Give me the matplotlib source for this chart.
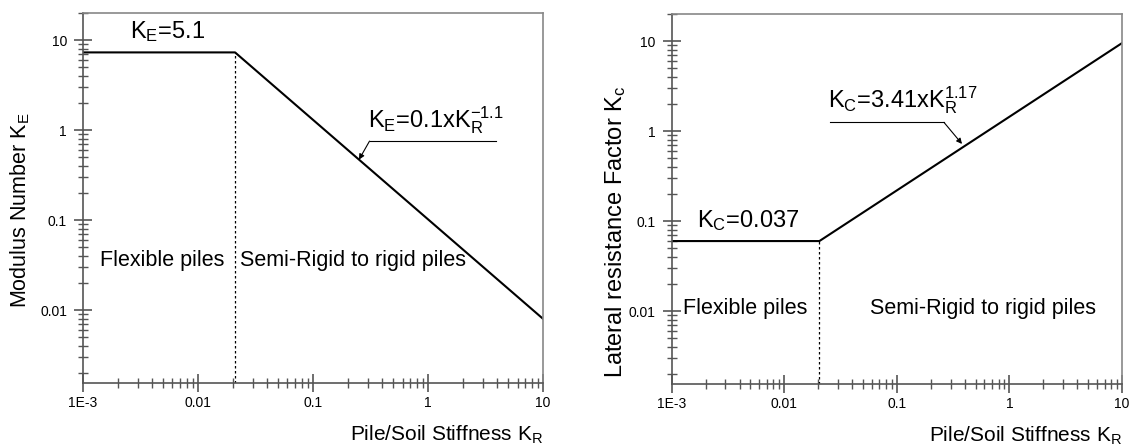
import matplotlib.pyplot as plt
from matplotlib.ticker import LogLocator, NullFormatter, FixedFormatter, FixedLocator

plt.rcParams['font.family'] = ['Liberation Sans', 'DejaVu Sans']
plt.rcParams['mathtext.fontset'] = 'custom'
plt.rcParams['mathtext.rm'] = 'Liberation Sans'
plt.rcParams['mathtext.it'] = 'Liberation Sans'
plt.rcParams['mathtext.default'] = 'regular'

# left panel: modulus number K_E vs pile/soil stiffness K_R
ke_x = [1e-3, 0.021, 10]
ke_y = [7.3, 7.3, 0.008]
ke_break = 0.021

# right panel: lateral resistance factor K_c
kc_x = [1e-3, 0.0205, 10]
kc_y = [0.06, 0.06, 9.5]
kc_break = 0.0205

major_ticks = [1e-3, 0.01, 0.1, 1, 10]
x_labels = ['1E-3', '0.01', '0.1', '1', '10']
y_ticks = [0.01, 0.1, 1, 10]
y_labels = ['0.01', '0.1', '1', '10']

fig = plt.figure(figsize=(11.29, 4.47), dpi=100)
ax1 = fig.add_axes([0.0735, 0.1432, 0.4075, 0.8277])
ax2 = fig.add_axes([0.595, 0.1410, 0.3988, 0.8277])

spine_col = '#555555'

def style_axes(ax):
    ax.set_xscale('log')
    ax.set_yscale('log')
    ax.set_xlim(1e-3, 10)
    ax.set_ylim(0.00155, 20)
    ax.xaxis.set_major_locator(FixedLocator(major_ticks))
    ax.xaxis.set_major_formatter(FixedFormatter(x_labels))
    ax.yaxis.set_major_locator(FixedLocator(y_ticks))
    ax.yaxis.set_major_formatter(FixedFormatter(y_labels))
    ax.xaxis.set_minor_locator(LogLocator(base=10, subs=range(2, 10)))
    ax.yaxis.set_minor_locator(LogLocator(base=10, subs=range(2, 10)))
    ax.xaxis.set_minor_formatter(NullFormatter())
    ax.yaxis.set_minor_formatter(NullFormatter())
    ax.tick_params(which='major', direction='inout', length=13, width=1.2,
                   color=spine_col, labelsize=10)
    ax.tick_params(axis='x', which='major', pad=3)
    ax.tick_params(axis='y', which='major', pad=5)
    ax.tick_params(which='minor', direction='inout', length=7, width=1.0,
                   color=spine_col)
    ax.tick_params(top=False, right=False, which='both')
    for s in ax.spines.values():
        s.set_color(spine_col)
        s.set_linewidth(1.2)
    ax.spines['top'].set_color('#888888')
    ax.spines['right'].set_color('#888888')

style_axes(ax1)
style_axes(ax2)

# left panel
ax1.plot(ke_x, ke_y, color='black', lw=1.5)
ax1.plot([ke_break, ke_break], [0.00155, ke_y[1]], color='black', lw=0.9,
         linestyle=(0, (2, 2)))
ax1.text(0.00256, 10.5, 'K$_E$=5.1', fontsize=17)
ax1.text(0.0014, 0.036, 'Flexible piles', fontsize=15.5, va='center')
ax1.text(0.0232, 0.036, 'Semi-Rigid to rigid piles', fontsize=15.5, va='center')
ax1.text(0.30, 1.08, 'K$_E$=0.1xK$_R^{-1.1}$', fontsize=17)
ax1.plot([0.31, 3.9], [0.755, 0.755], color='black', lw=0.8)
ax1.annotate('', xy=(0.251, 0.47), xytext=(0.31, 0.755),
             arrowprops=dict(arrowstyle='-|>', color='black', lw=0.8,
                             mutation_scale=8, shrinkA=0, shrinkB=0))
ax1.set_ylabel('Modulus Number K$_E$', fontsize=15.5)
ax1.yaxis.set_label_coords(-0.11, 0.467)
ax1.set_xlabel('Pile/Soil Stiffness K$_R$', fontsize=15, loc='right',
               labelpad=10)

# right panel
ax2.plot(kc_x, kc_y, color='black', lw=1.5)
ax2.plot([kc_break, kc_break], [0.00155, kc_y[1]], color='black', lw=0.9,
         linestyle=(0, (2, 2)))
ax2.text(0.00167, 0.0867, 'K$_C$=0.037', fontsize=17)
ax2.text(0.00125, 0.0108, 'Flexible piles', fontsize=15.5, va='center')
ax2.text(0.0575, 0.0108, 'Semi-Rigid to rigid piles', fontsize=15.5, va='center')
ax2.text(0.0244, 1.84, 'K$_C$=3.41xK$_R^{1.17}$', fontsize=17)
ax2.plot([0.0254, 0.262], [1.25, 1.25], color='black', lw=0.8)
ax2.annotate('', xy=(0.379, 0.72), xytext=(0.262, 1.25),
             arrowprops=dict(arrowstyle='-|>', color='black', lw=0.8,
                             mutation_scale=8, shrinkA=0, shrinkB=0))
ax2.set_ylabel('Lateral resistance Factor K$_c$', fontsize=17)
ax2.yaxis.set_label_coords(-0.097, 0.41)
ax2.set_xlabel('Pile/Soil Stiffness K$_R$', fontsize=15, loc='right',
               labelpad=10)

fig.savefig('out.png', dpi=100)
